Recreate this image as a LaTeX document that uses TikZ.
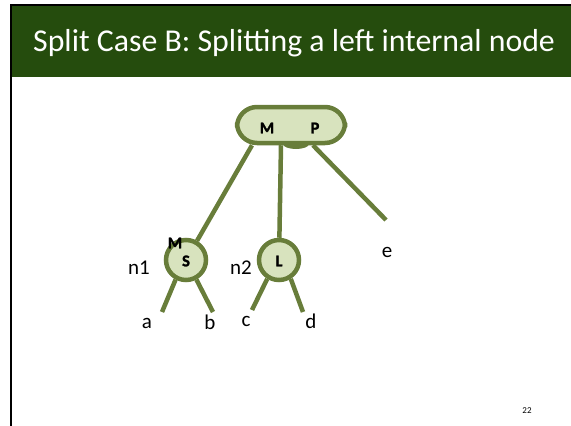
\documentclass[tikz,border=0pt]{standalone}
\usepackage{fontspec}
\setmainfont{Carlito}
\newfontfamily\keyfont{Carlito}[BoldFeatures={FakeBold=1.5}]
\definecolor{headgreen}{RGB}{37,76,13}
\definecolor{olive}{RGB}{104,125,58}
\definecolor{palegreen}{RGB}{216,227,190}
\begin{document}
\begin{tikzpicture}[x=1pt,y=-1pt,
  treeedge/.style={draw=olive,line width=4.5pt},
  keynode/.style={draw=olive,fill=palegreen,line width=4.5pt,inner sep=0pt},
  keytext/.style={font=\keyfont\fontsize{16.5}{16.5}\selectfont\bfseries,text=black,inner sep=0pt},
  leaflabel/.style={font=\fontsize{21}{21}\selectfont,text=black,inner sep=0pt}]
\useasboundingbox (0,0) rectangle (571,426);
% slide frame and title bar
\fill[black] (10,4) rectangle (571,6);
\fill[black] (10,4) rectangle (12,426);
\fill[headgreen] (12,6) rectangle (571,77);
\node[anchor=west,text=white,font=\fontsize{31.8}{32}\selectfont,inner sep=0pt] (title) at (33,43)
  {Split Case B: Splitting a left internal node};
% root node
\fill[olive] (296,144) ellipse [x radius=13, y radius=5];
\node[keynode,rounded corners=20pt,minimum width=108pt,minimum height=36pt] (root) at (291,125) {};
\node[keytext] (rm) at (267,128) {M};
\node[keytext] (rp) at (315,128) {P};
% children
\node[keynode,circle,minimum size=40pt] (n1) at (186,260) {};
\node[keynode,circle,minimum size=40pt] (n2) at (279,260) {};
\node[keytext] (sk) at (186,261) {S};
\node[keytext] (lk) at (279,261) {L};
\node[keytext] (mk) at (175,243) {M};
% free ends
\coordinate (ee) at (386,220);
\coordinate (ea) at (162,312);
\coordinate (eb) at (213,312);
\coordinate (ec) at (252,310);
\coordinate (ed) at (303,312);
% connectors
\draw[treeedge] ([xshift=-39pt]root.south) -- (n1);
\draw[treeedge] ([xshift=-10pt]root.south) -- (n2);
\draw[treeedge] ([xshift=22pt]root.south) -- (ee);
\draw[treeedge] (n1.242) -- (ea);
\draw[treeedge] (n1.298) -- (eb);
\draw[treeedge] (n2.238) -- (ec);
\draw[treeedge] (n2.302) -- (ed);
% labels
\node[leaflabel] (ln1) at (139,268) {n1};
\node[leaflabel] (ln2) at (241,268) {n2};
\node[leaflabel] (la) at (147,323) {a};
\node[leaflabel] (lb) at (210,322) {b};
\node[leaflabel] (lc) at (246,321) {c};
\node[leaflabel] (ld) at (311,321) {d};
\node[leaflabel] (le) at (387,252) {e};
\node[font=\fontsize{9}{9}\selectfont,inner sep=0pt] (pg) at (527,411) {22};
\end{tikzpicture}
\end{document}
